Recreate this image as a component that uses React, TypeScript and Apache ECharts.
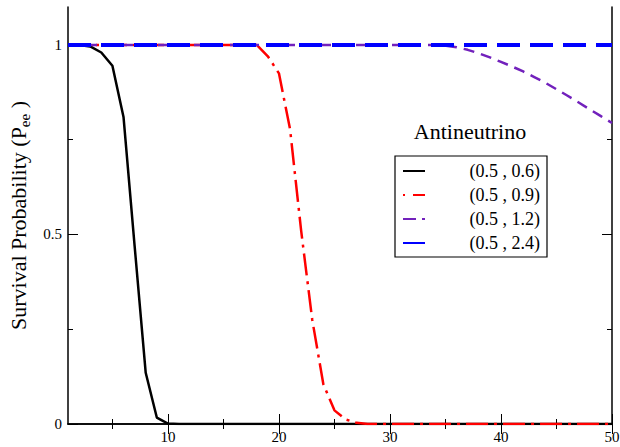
import React, { useEffect, useRef } from 'react';
import * as echarts from 'echarts';

// Energy axis values (x) and survival probabilities (y) for each curve
const energy06 = [1, 2, 3, 4, 5, 6, 7, 8, 9, 10, 11, 50];
const prob06 = [1, 1, 0.996, 0.98, 0.945, 0.81, 0.47, 0.135, 0.017, 0.001, 0, 0];

const energy09 = [1, 18, 19, 20, 21, 22, 23, 24, 25, 26, 27, 28, 50];
const prob09 = [1, 1, 0.97, 0.925, 0.778, 0.51, 0.275, 0.105, 0.036, 0.012, 0.003, 0, 0];

const energy12 = [1, 34, 35, 36, 37, 38, 39, 40, 41, 42, 43, 44, 45, 46, 47, 48, 49, 50];
const prob12 = [1, 1, 0.998, 0.994, 0.987, 0.978, 0.967, 0.955, 0.943, 0.93, 0.915, 0.9, 0.883, 0.866, 0.848, 0.83, 0.812, 0.794];

const energy24 = [1, 50];
const prob24 = [1, 1];

const seriesNames = ['(0.5 , 0.6)', '(0.5 , 0.9)', '(0.5 , 1.2)', '(0.5 , 2.4)'];

const xMajorTicks = [10, 20, 30, 40, 50];
const xMinorTicks = [5, 15, 25, 35, 45];
const yMajorTicks = [0, 0.5, 1];
const yMinorTicks = [0.25, 0.75];

const FONT = 'Liberation Serif';

const zip = (xs: number[], ys: number[]) => xs.map((x, i) => [x, ys[i]]);

export default function App() {
  const ref = useRef<HTMLDivElement>(null);

  useEffect(() => {
    if (!ref.current) return;
    const chart = echarts.init(ref.current, undefined, { renderer: 'svg' });

    const line = { show: true, lineStyle: { color: '#000', width: 1.5 } };
    const tickStyle = { color: '#000', width: 1 };

    const xAxisBase = { type: 'value', min: 1, max: 50, splitLine: { show: false } };
    const yAxisBase = { type: 'value', min: 0, max: 1.1, splitLine: { show: false } };

    const option: any = {
      animation: false,
      backgroundColor: '#fff',
      textStyle: { fontFamily: FONT },
      grid: { left: 68, right: 8, top: 7, bottom: 23, containLabel: false, outerBoundsMode: 'none' },
      xAxis: [
        {
          ...xAxisBase, position: 'bottom', axisLine: line,
          axisTick: { show: true, inside: true, length: 10, customValues: xMajorTicks, lineStyle: tickStyle },
          axisLabel: { show: true, customValues: xMajorTicks, color: '#000', fontFamily: FONT, fontSize: 15, margin: 5 },
        },
        {
          ...xAxisBase, position: 'bottom', axisLine: { show: false },
          axisTick: { show: true, inside: true, length: 5, customValues: xMinorTicks, lineStyle: tickStyle },
          axisLabel: { show: false },
        },
        {
          ...xAxisBase, position: 'top', axisLine: line,
          axisTick: { show: true, inside: true, length: 10, customValues: xMajorTicks, lineStyle: tickStyle },
          axisLabel: { show: false },
        },
        {
          ...xAxisBase, position: 'top', axisLine: { show: false },
          axisTick: { show: true, inside: true, length: 5, customValues: xMinorTicks, lineStyle: tickStyle },
          axisLabel: { show: false },
        },
      ],
      yAxis: [
        {
          ...yAxisBase, position: 'left', axisLine: line,
          axisTick: { show: true, inside: true, length: 10, customValues: yMajorTicks, lineStyle: tickStyle },
          axisLabel: { show: true, customValues: yMajorTicks, color: '#000', fontFamily: FONT, fontSize: 15, margin: 6 },
          name: '{a|Survival Probability (P}{sub|ee}{a| )}',
          nameLocation: 'middle',
          nameRotate: 90,
          nameGap: 34,
          nameTextStyle: {
            color: '#000', fontFamily: FONT, fontSize: 22,
            rich: {
              a: { color: '#000', fontFamily: FONT, fontSize: 22, lineHeight: 28 },
              sub: { color: '#000', fontFamily: FONT, fontSize: 15, lineHeight: 28, verticalAlign: 'bottom' },
            },
          },
        },
        {
          ...yAxisBase, position: 'left', axisLine: { show: false },
          axisTick: { show: true, inside: true, length: 5, customValues: yMinorTicks, lineStyle: tickStyle },
          axisLabel: { show: false },
        },
        {
          ...yAxisBase, position: 'right', axisLine: line,
          axisTick: { show: true, inside: true, length: 10, customValues: yMajorTicks, lineStyle: tickStyle },
          axisLabel: { show: false },
        },
        {
          ...yAxisBase, position: 'right', axisLine: { show: false },
          axisTick: { show: true, inside: true, length: 5, customValues: yMinorTicks, lineStyle: tickStyle },
          axisLabel: { show: false },
        },
      ],
      legend: {
        orient: 'vertical',
        left: 395,
        top: 156,
        padding: [6, 7, 5, 7],
        itemGap: 6,
        itemWidth: 22,
        itemHeight: 14,
        borderColor: '#000',
        borderWidth: 1.2,
        backgroundColor: '#fff',
        selectedMode: false,
        itemStyle: { opacity: 0, borderWidth: 0 },
        formatter: (name: string) => `{a|${name}}`,
        textStyle: {
          color: '#000', fontFamily: FONT, fontSize: 18, lineHeight: 18,
          rich: { a: { color: '#000', fontFamily: FONT, fontSize: 18, lineHeight: 18, width: 110, align: 'right' } },
        },
        data: [
          { name: seriesNames[0] },
          { name: seriesNames[1], lineStyle: { type: [2, 8, 12, 100] } },
          { name: seriesNames[2], lineStyle: { type: [13, 6, 3, 100] } },
          { name: seriesNames[3] },
        ],
      },
      graphic: [
        {
          type: 'text',
          x: 470,
          y: 131,
          style: {
            text: 'Antineutrino', fontFamily: FONT, fontSize: 22, fill: '#000',
            align: 'center', verticalAlign: 'middle',
          },
        },
      ],
      series: [
        {
          name: seriesNames[0], type: 'line', data: zip(energy06, prob06), symbol: 'none',
          lineStyle: { color: '#000000', width: 2.5, type: 'solid' }, itemStyle: { color: '#000000' },
        },
        {
          name: seriesNames[1], type: 'line', data: zip(energy09, prob09), symbol: 'none',
          lineStyle: { color: '#ff0000', width: 2.5, type: [22, 6, 3, 6] }, itemStyle: { color: '#ff0000' },
        },
        {
          name: seriesNames[2], type: 'line', data: zip(energy12, prob12), symbol: 'none', smooth: false,
          lineStyle: { color: '#7221bc', width: 2.5, type: [11, 7] }, itemStyle: { color: '#7221bc' },
        },
        {
          name: seriesNames[3], type: 'line', data: zip(energy24, prob24), symbol: 'none',
          lineStyle: { color: '#0000ff', width: 4, type: [23, 10] }, itemStyle: { color: '#0000ff' },
        },
      ],
    };

    chart.setOption(option);
    return () => chart.dispose();
  }, []);

  return (
    <div
      ref={ref}
      style={{ position: 'fixed', left: 0, top: 0, width: 620, height: 447 }}
    />
  );
}
